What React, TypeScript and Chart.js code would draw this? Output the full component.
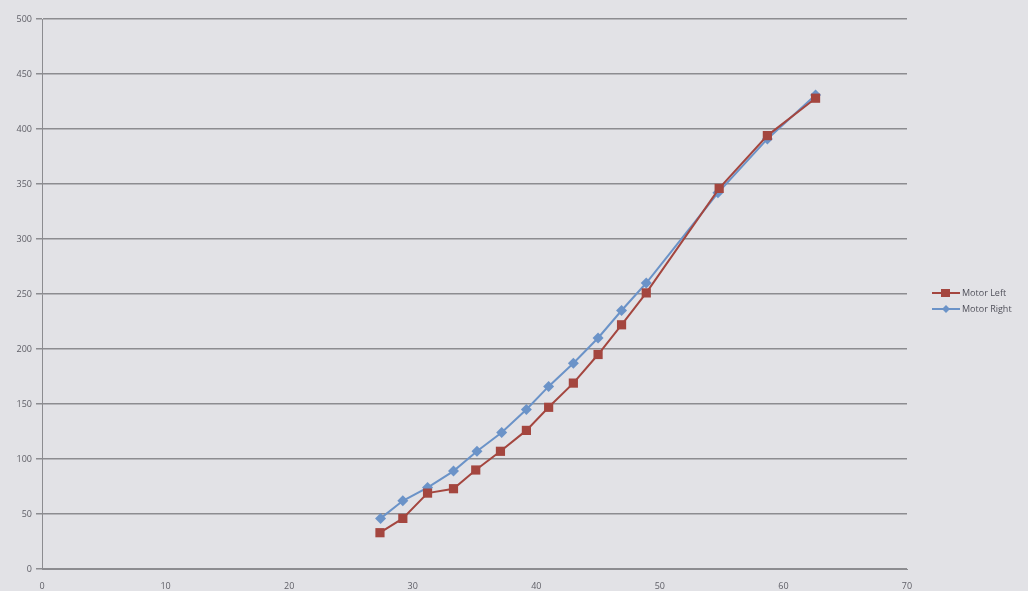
import React, { useEffect, useRef } from "react";
import { Chart, registerables } from "chart.js";

Chart.register(...registerables);

const leftX = [27.35, 29.2, 31.2, 33.3, 35.1, 37.1, 39.2, 41.0, 43.0, 45.0, 46.9, 48.9, 54.8, 58.7, 62.6];
const leftY = [33, 46, 69, 73, 90, 107, 126, 147, 169, 195, 222, 251, 346, 394, 428];
const rightX = [27.4, 29.2, 31.2, 33.3, 35.2, 37.2, 39.2, 41.0, 43.0, 45.0, 46.9, 48.9, 54.7, 58.7, 62.6];
const rightY = [46, 62, 74, 89, 107, 124, 145, 166, 187, 210, 235, 260, 342, 391, 431];
const seriesNames = ["Motor Left", "Motor Right"];
const xTicks = [0, 10, 20, 30, 40, 50, 60, 70];
const yTicks = [0, 50, 100, 150, 200, 250, 300, 350, 400, 450, 500];

const RED = "#a4463f";
const BLUE = "#6b93c8";
const GRID = "#8c8c90";
const TEXT = "#5e5e66";
const BG = "#e2e2e6";
const FONT = "'Open Sans', 'DejaVu Sans', sans-serif";

const legendPlugin = {
  id: "sideLegend",
  afterDraw(chart: any) {
    const ctx = chart.ctx;
    const items = chart.data.datasets;
    ctx.save();
    items.forEach((ds: any, i: number) => {
      const y = 293 + i * 16;
      ctx.strokeStyle = ds.borderColor;
      ctx.lineWidth = 2;
      ctx.beginPath();
      ctx.moveTo(932, y);
      ctx.lineTo(960, y);
      ctx.stroke();
      ctx.fillStyle = ds.backgroundColor;
      if (ds.pointStyle === "rect") {
        ctx.fillRect(941, y - 4, 9, 8);
      } else {
        ctx.beginPath();
        ctx.moveTo(946, y - 4);
        ctx.lineTo(950, y);
        ctx.lineTo(946, y + 4);
        ctx.lineTo(942, y);
        ctx.closePath();
        ctx.fill();
      }
      ctx.fillStyle = "#50505a";
      ctx.font = `9px ${FONT}`;
      ctx.textBaseline = "middle";
      ctx.textAlign = "left";
      ctx.fillText(ds.label, 962, y);
    });
    ctx.restore();
  },
};

const bgPlugin = {
  id: "bg",
  beforeDraw(chart: any) {
    const ctx = chart.ctx;
    ctx.save();
    ctx.fillStyle = BG;
    ctx.fillRect(0, 0, chart.width, chart.height);
    ctx.restore();
  },
};

export default function App() {
  const ref = useRef<HTMLCanvasElement | null>(null);
  useEffect(() => {
    document.body.style.margin = "0";
    const canvas = ref.current!;
    const chart = new Chart(canvas, {
      type: "scatter",
      data: {
        datasets: [
          {
            label: seriesNames[0],
            data: leftX.map((x, i) => ({ x, y: leftY[i] })),
            showLine: true,
            borderColor: RED,
            backgroundColor: RED,
            borderWidth: 2,
            pointStyle: "rect",
            pointRadius: 6.5,
            pointBorderWidth: 0,
            tension: 0,
          },
          {
            label: seriesNames[1],
            data: rightX.map((x, i) => ({ x, y: rightY[i] })),
            showLine: true,
            borderColor: BLUE,
            backgroundColor: BLUE,
            borderWidth: 2,
            pointStyle: "rectRot",
            pointRadius: 5.5,
            pointBorderWidth: 0,
            tension: 0,
          },
        ],
      },
      options: {
        animation: false,
        responsive: false,
        layout: { padding: { top: 19, right: 121, left: 0, bottom: 0 } },
        plugins: { legend: { display: false }, tooltip: { enabled: false } },
        scales: {
          x: {
            type: "linear",
            min: 0,
            max: 70,
            afterBuildTicks: (s: any) => { s.ticks = xTicks.map((v) => ({ value: v })); },
            afterFit: (s: any) => { s.height = 22; },
            grid: { display: false, drawTicks: true, tickLength: 5, color: GRID },
            border: { display: true, color: GRID, width: 1 },
            ticks: { color: TEXT, font: { size: 9, family: FONT }, padding: 7, maxRotation: 0 },
          },
          y: {
            type: "linear",
            min: 0,
            max: 500,
            afterBuildTicks: (s: any) => { s.ticks = yTicks.map((v) => ({ value: v })); },
            afterFit: (s: any) => { s.width = 42; },
            grid: { color: GRID, lineWidth: 1.5, tickLength: 6, drawTicks: true },
            border: { display: true, color: GRID, width: 1 },
            ticks: { color: TEXT, font: { size: 9, family: FONT }, padding: 4 },
          },
        },
      },
      plugins: [bgPlugin, legendPlugin],
    });
    return () => chart.destroy();
  }, []);
  return (
    <div style={{ position: "absolute", left: 0, top: 0, width: 1028, height: 591, background: BG }}>
      <canvas ref={ref} width={1028} height={591} style={{ width: 1028, height: 591 }} />
    </div>
  );
}
